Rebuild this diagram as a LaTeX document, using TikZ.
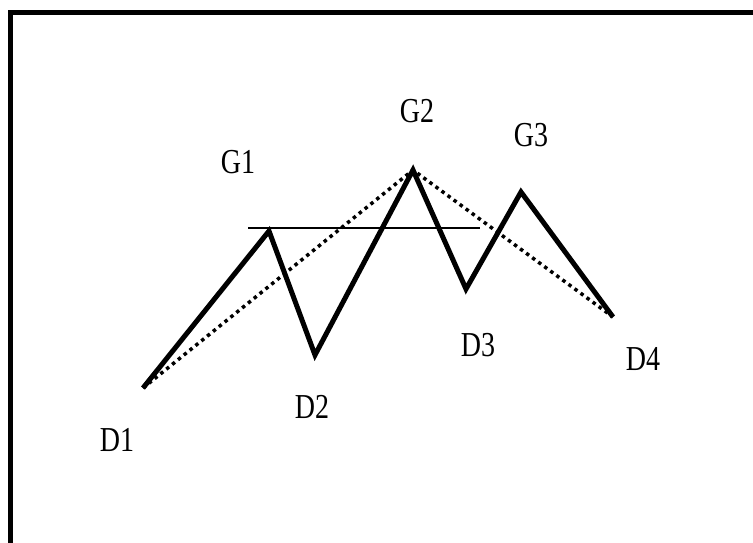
\documentclass[tikz,border=0pt]{standalone}
\usepackage{fontspec}
\setmainfont{Liberation Serif}[FakeStretch=0.8]
\begin{document}
\begin{tikzpicture}[x=1pt,y=-1pt,
  lbl/.style={inner sep=0pt,font=\fontsize{35}{40}\selectfont},
  wave/.style={line width=5pt,line join=miter},
  trend/.style={line width=3.5pt,dash pattern=on 3.5pt off 4pt},
  level/.style={line width=1.8pt}]
\useasboundingbox (0,0) rectangle (753,542);
\clip (0,0) rectangle (753,542);
\draw[line width=5pt] (10.5,560) -- (10.5,12.5) -- (770,12.5);
\coordinate (D1) at (143,388);
\coordinate (G1) at (269,231);
\coordinate (D2) at (315,355);
\coordinate (G2) at (413,170);
\coordinate (D3) at (466,289);
\coordinate (G3) at (521,192);
\coordinate (D4) at (613,317);
\coordinate (L1) at (248,228);
\coordinate (L2) at (480,228);
\draw[trend] (D1) -- (G2) -- (D4);
\draw[level] (L1) -- (L2);
\draw[wave] (D1) -- (G1) -- (D2) -- (G2) -- (D3) -- (G3) -- (D4);
\node[lbl] (tG1) at (238,162) {G1};
\node[lbl] (tG2) at (417,111) {G2};
\node[lbl] (tG3) at (531,135) {G3};
\node[lbl] (tD1) at (117,440) {D1};
\node[lbl] (tD2) at (312,407) {D2};
\node[lbl] (tD3) at (478,345) {D3};
\node[lbl] (tD4) at (643,359) {D4};
\end{tikzpicture}
\end{document}
